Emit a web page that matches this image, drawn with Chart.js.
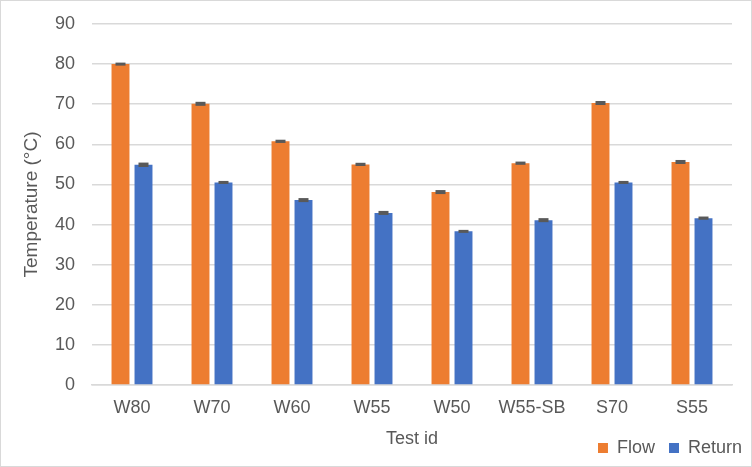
<!DOCTYPE html>
<html>
<head>
<meta charset="utf-8">
<script src="https://cdn.jsdelivr.net/npm/chart.js@4/dist/chart.umd.min.js"></script>
<style>
    html, body { margin: 0; padding: 0; background: #fff; }
    #wrap { position: relative; width: 752px; height: 467px; }
    #frame { position: absolute; left: 0; top: 0; width: 752px; height: 467px; box-sizing: border-box; border: 1px solid #d9d9d9; pointer-events: none; }
    canvas { position: absolute; left: 0; top: 0; }
</style>
</head>
<body>
<div id="wrap"><canvas id="chart" width="752" height="467"></canvas><div id="frame"></div></div>
<script>
'use strict';

const testIds = ['W80', 'W70', 'W60', 'W55', 'W50', 'W55-SB', 'S70', 'S55'];
const flowTemp = [80.0, 70.1, 60.75, 55.0, 48.1, 55.3, 70.3, 55.6];
const flowErr = [0.33, 0.5, 0.4, 0.4, 0.5, 0.4, 0.5, 0.5];
const returnTemp = [54.9, 50.5, 46.1, 42.9, 38.3, 41.1, 50.5, 41.6];
const returnErr = [0.55, 0.35, 0.5, 0.5, 0.35, 0.5, 0.35, 0.4];
const yTicks = [0, 10, 20, 30, 40, 50, 60, 70, 80, 90];

const FONT = 'Liberation Sans, Arial, sans-serif';
const TEXT = '#595959';
const LEGEND_PAD = 14;

// error bars are drawn over the bars from the value scale
const errorBars = {
    'id': 'errorBars',
    afterDatasetsDraw(chart) {
        const ctx = chart.ctx;
        const yScale = chart.scales.y;
        chart.data.datasets.forEach((ds, i) => {
            const meta = chart.getDatasetMeta(i);
            meta.data.forEach((bar, j) => {
                const v = ds.data[j];
                const e = ds.errors[j];
                let top = yScale.getPixelForValue(v + e);
                let bot = yScale.getPixelForValue(v - e);
                if (bot - top < 3) {
                    const mid = (top + bot) / 2;
                    top = mid - 1.5;
                    bot = mid + 1.5;
                }
                ctx.save();
                ctx.fillStyle = '#595959';
                ctx.fillRect(bar.x - 5, top, 10, bot - top);
                ctx.restore();
            });
        });
    }
};

// Excel puts the legend on the same row as the axis title, out to the right edge.
// The legend clips to its own box, so the box is widened here as well.
const legendShift = {
    'id': 'legendShift',
    afterLayout(chart) {
        const lg = chart.legend;
        lg.top = 448 - LEGEND_PAD - 9;
        lg.bottom = 467;
        lg.right = 742 + LEGEND_PAD;
    }
};

new Chart(document.getElementById('chart').getContext('2d'), {
    'type': 'bar',
    'data': {
        'labels': testIds,
        'datasets': [
            {
                'label': 'Flow',
                'data': flowTemp,
                'errors': flowErr,
                'backgroundColor': '#ED7D31',
                'categoryPercentage': 0.575,
                'barPercentage': 0.78
            },
            {
                'label': 'Return',
                'data': returnTemp,
                'errors': returnErr,
                'backgroundColor': '#4472C4',
                'categoryPercentage': 0.575,
                'barPercentage': 0.78
            }
        ]
    },
    'options': {
        'responsive': false,
        'animation': false,
        'devicePixelRatio': 1,
        'layout': {
            'padding': { 'left': 16, 'right': 20, 'top': 24, 'bottom': 0 }
        },
        'plugins': {
            'legend': {
                'position': 'bottom',
                'align': 'end',
                'maxHeight': 15,
                'labels': {
                    'boxWidth': 10,
                    'boxHeight': 10,
                    'padding': LEGEND_PAD,
                    'color': TEXT,
                    'font': { 'family': FONT, 'size': 18 },
                    'useBorderRadius': false
                }
            },
            'tooltip': { 'enabled': false }
        },
        'scales': {
            'x': {
                'grid': { 'display': false },
                'border': { 'display': true, 'color': '#d9d9d9', 'width': 1.5 },
                'ticks': {
                    'color': TEXT,
                    'padding': 4,
                    'maxRotation': 0,
                    'font': { 'family': FONT, 'size': 18 }
                },
                'title': {
                    'display': true,
                    'text': 'Test id',
                    'color': TEXT,
                    'padding': { 'top': 0, 'bottom': 2 },
                    'font': { 'family': FONT, 'size': 18 }
                },
                afterFit(scale) {
                    scale.height = 67;
                }
            },
            'y': {
                'min': 0,
                'max': 90,
                'afterBuildTicks': (scale) => {
                    scale.ticks = yTicks.map((v) => ({ 'value': v }));
                },
                'grid': {
                    'color': '#d9d9d9',
                    'lineWidth': 1.5,
                    'drawTicks': true,
                    'tickLength': 14,
                    'tickColor': 'rgba(0,0,0,0)'
                },
                'border': { 'display': false },
                'ticks': {
                    'color': TEXT,
                    'padding': 3,
                    'font': { 'family': FONT, 'size': 18 }
                },
                'title': {
                    'display': true,
                    'text': 'Temperature (°C)',
                    'color': TEXT,
                    'padding': { 'top': 4, 'bottom': 0 },
                    'font': { 'family': FONT, 'size': 19 }
                },
                afterFit(scale) {
                    scale.width = 76;
                }
            }
        }
    },
    'plugins': [errorBars, legendShift]
});
</script>
</body>
</html>
